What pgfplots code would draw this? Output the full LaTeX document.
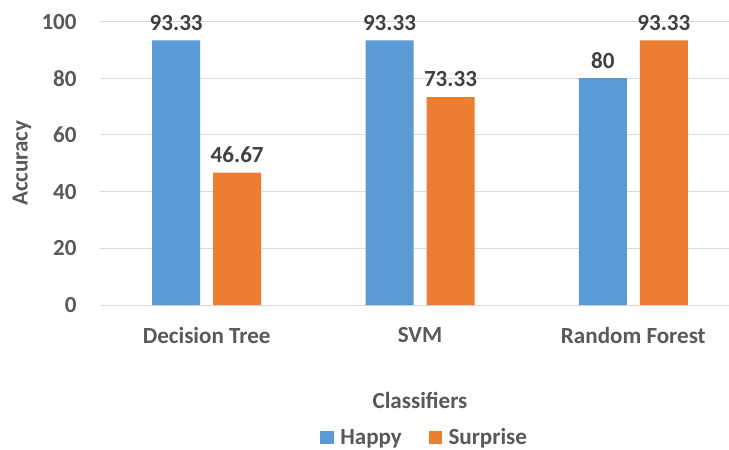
\documentclass[border=0pt]{standalone}
\usepackage{fontspec}
\setmainfont{Carlito}
\usepackage{pgfplots}
\pgfplotsset{compat=1.18}
\definecolor{happy}{HTML}{5B9BD5}
\definecolor{surprise}{HTML}{ED7D31}
\definecolor{txt}{HTML}{595959}
\definecolor{val}{HTML}{404040}
\definecolor{gridc}{HTML}{D9D9D9}

\begin{document}
\begin{tikzpicture}
\begin{axis}[
  x=160pt, y=2.126pt,
  ybar=9.75pt, bar width=36pt,
  xmin=-0.5, xmax=2.447, ymin=0, ymax=100,
  xtick={0,1,2}, xticklabels={Decision Tree,SVM,Random Forest},
  ytick={0,20,...,100},
  major tick length=0pt,
  ymajorgrids, grid style={gridc, line width=0.75pt},
  axis x line*=bottom, axis y line*=left,
  y axis line style={draw=none},
  x axis line style={gridc, line width=0.75pt, -},
  tick label style={font=\fontsize{17.3}{20}\selectfont\bfseries, text=txt},
  /pgf/number format/assume math mode=true,
  yticklabel style={xshift=-14pt},
  xticklabel style={yshift=-13pt},
  nodes near coords,
  nodes near coords style={font=\fontsize{17.3}{20}\selectfont\bfseries, text=val, yshift=4pt},
  clip=false,
  ylabel={Accuracy},
  ylabel style={font=\fontsize{17.3}{20}\selectfont\bfseries, text=txt,
    at={(axis description cs:-0.124,0.5)}, anchor=center},
  xlabel={Classifiers},
  xlabel style={font=\fontsize{17.3}{20}\selectfont\bfseries, text=txt,
    at={(axis description cs:0.509,-0.337)}, anchor=center},
  legend style={at={(axis description cs:0.517,-0.468)}, anchor=center,
    draw=none, legend columns=2, font=\fontsize{17.3}{20}\selectfont\bfseries,
    text=txt, /tikz/every odd column/.append style={column sep=3pt},
    /tikz/every even column/.append style={column sep=18pt}},
  legend image code/.code={\fill[#1] (-3pt,-5pt) rectangle (7pt,5pt);},
]
\addplot[fill=happy, draw=none] coordinates {(0,93.33) (1,93.33) (2,80)};
\addplot[fill=surprise, draw=none] coordinates {(0,46.67) (1,73.33) (2,93.33)};
\legend{Happy,Surprise}
\end{axis}
\pgfresetboundingbox
\path (-75pt,-108.75pt) rectangle (471.75pt,228.75pt);
\end{tikzpicture}
\end{document}
